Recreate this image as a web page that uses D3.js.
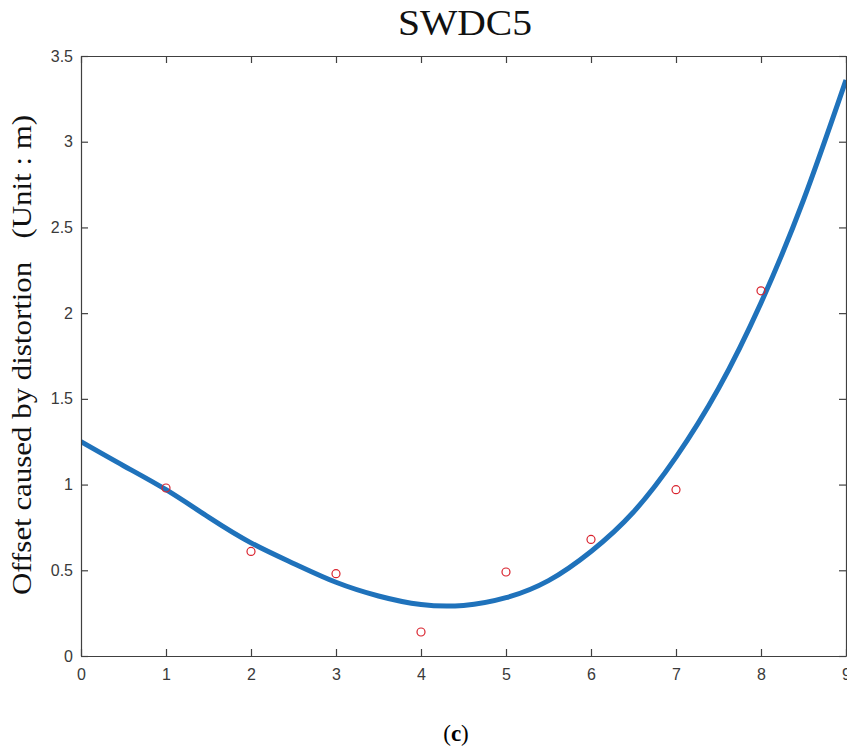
<!DOCTYPE html>
<html>
<head>
<meta charset="utf-8">
<script src="https://cdn.jsdelivr.net/npm/d3@7"></script>
<style>
  body { margin: 0; background: #fff; }
  svg { display: block; }
</style>
</head>
<body>
<svg class="chart"></svg>
<script>
  const width = 847;
  const height = 747;

  // measured offsets at each sample
  const sampleX = [1, 2, 3, 4, 5, 6, 7, 8];
  const sampleY = [0.98, 0.61, 0.48, 0.14, 0.49, 0.68, 0.97, 2.13];

  // fitted curve
  const fitX = [0, 0.5, 1, 1.5, 2, 2.5, 3, 3.5, 4, 4.5, 5, 5.5, 6, 6.5, 7, 7.5, 8, 8.5, 9];
  const fitY = [1.25, 1.11, 0.97, 0.81, 0.66, 0.54, 0.43, 0.35, 0.30, 0.295, 0.34, 0.44, 0.61, 0.84, 1.16, 1.56, 2.06, 2.66, 3.36];

  const xTicks = [0, 1, 2, 3, 4, 5, 6, 7, 8, 9];
  const yTicks = [0, 0.5, 1, 1.5, 2, 2.5, 3, 3.5];

  const margin = { top: 56, right: 1, bottom: 91, left: 81 };
  const axisColor = "#404040";

  const svg = d3.select(".chart").attr("width", width).attr("height", height);

  const x = d3.scaleLinear().domain([0, 9]).range([margin.left, width - margin.right]);
  const y = d3.scaleLinear().domain([0, 3.5]).range([height - margin.bottom, margin.top]);

  const plot = svg.append("g");

  svg.append("clipPath").attr("id", "clip")
    .append("rect")
    .attr("x", x(0)).attr("y", y(3.5))
    .attr("width", x(9) - x(0)).attr("height", y(0) - y(3.5));

  // fit curve
  const line = d3.line()
    .x((d, i) => x(fitX[i]))
    .y(d => y(d))
    .curve(d3.curveNatural);

  plot.append("path")
    .datum(fitY)
    .attr("d", line)
    .attr("clip-path", "url(#clip)")
    .style("fill", "none")
    .style("stroke", "#1f72bb")
    .style("stroke-width", 5);

  // sample markers
  plot.selectAll(".pt")
    .data(sampleY)
    .enter()
    .append("circle")
    .attr("class", "pt")
    .attr("cx", (d, i) => x(sampleX[i]))
    .attr("cy", d => y(d))
    .attr("r", 4)
    .style("fill", "none")
    .style("stroke", "#d9232e")
    .style("stroke-width", 1.2);

  // axes (box with inward ticks)
  const tickLen = 7;
  function styleAxis(g) {
    g.selectAll("path, line").style("stroke", axisColor).style("stroke-width", 1.2);
    g.selectAll("text")
      .style("font-family", "'Liberation Sans', Arial, sans-serif")
      .style("font-size", "16px")
      .style("fill", "#3a3a3a");
  }

  svg.append("g")
    .attr("transform", `translate(0,${y(0)})`)
    .call(d3.axisBottom(x).tickValues(xTicks).tickFormat(d3.format("d"))
      .tickSizeInner(-tickLen).tickSizeOuter(0).tickPadding(13))
    .call(styleAxis);

  svg.append("g")
    .attr("transform", `translate(0,${y(3.5)})`)
    .call(d3.axisTop(x).tickValues(xTicks).tickFormat("")
      .tickSizeInner(-tickLen).tickSizeOuter(0))
    .call(styleAxis);

  svg.append("g")
    .attr("transform", `translate(${x(0)},0)`)
    .call(d3.axisLeft(y).tickValues(yTicks).tickFormat(d => d)
      .tickSizeInner(-tickLen).tickSizeOuter(0).tickPadding(8))
    .call(styleAxis);

  svg.append("g")
    .attr("transform", `translate(${x(9)},0)`)
    .call(d3.axisRight(y).tickValues(yTicks).tickFormat("")
      .tickSizeInner(-tickLen).tickSizeOuter(0))
    .call(styleAxis);

  // title
  svg.append("text")
    .attr("x", 465)
    .attr("y", 35)
    .attr("text-anchor", "middle")
    .attr("textLength", 134)
    .attr("lengthAdjust", "spacingAndGlyphs")
    .style("font-family", "'Liberation Serif', 'Times New Roman', serif")
    .style("font-size", "36px")
    .style("fill", "#111")
    .text("SWDC5");

  // y label
  svg.append("text")
    .attr("transform", "translate(31,355) rotate(-90)")
    .attr("text-anchor", "middle")
    .attr("xml:space", "preserve")
    .attr("textLength", 480)
    .attr("lengthAdjust", "spacingAndGlyphs")
    .style("white-space", "pre")
    .style("font-family", "'Liberation Serif', 'Times New Roman', serif")
    .style("font-size", "27px")
    .style("fill", "#111")
    .text("Offset caused by distortion   (Unit : m)");

  // panel label
  const lab = svg.append("text")
    .attr("x", 456)
    .attr("y", 741)
    .attr("text-anchor", "middle")
    .style("font-family", "'Liberation Serif', 'Times New Roman', serif")
    .style("font-size", "23px")
    .style("fill", "#000");
  lab.append("tspan").text("(");
  lab.append("tspan").style("font-weight", "bold").text("c");
  lab.append("tspan").text(")");
</script>
</body>
</html>
